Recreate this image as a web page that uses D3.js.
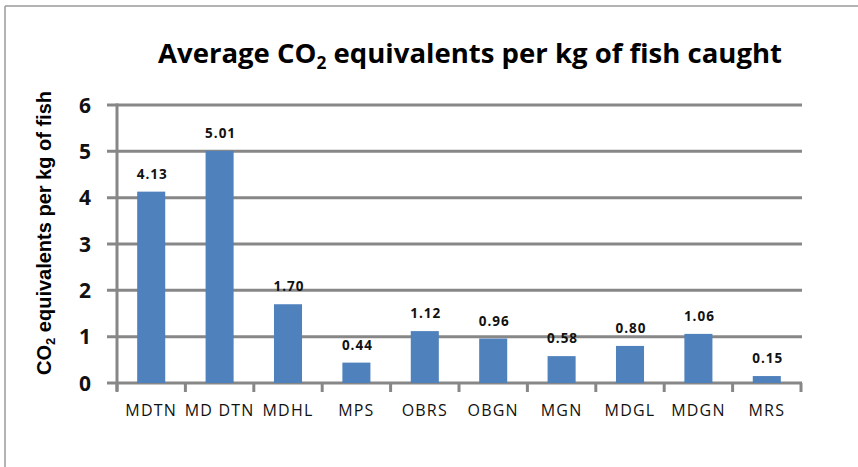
<!DOCTYPE html>
<html>
<head>
<meta charset="utf-8">
<script src="https://cdn.jsdelivr.net/npm/d3@7"></script>
<style>
  html, body { margin: 0; padding: 0; background: #fff; }
  svg { display: block; }
</style>
</head>
<body>
<svg id="chart" width="858" height="467"></svg>
<script>
const categories = ["MDTN", "MD DTN", "MDHL", "MPS", "OBRS", "OBGN", "MGN", "MDGL", "MDGN", "MRS"];
const values = [4.13, 5.01, 1.70, 0.44, 1.12, 0.96, 0.58, 0.80, 1.06, 0.15];
const valueLabels = ["4.13", "5.01", "1.70", "0.44", "1.12", "0.96", "0.58", "0.80", "1.06", "0.15"];
const yTicks = [0, 1, 2, 3, 4, 5, 6];

const svg = d3.select("#chart");
const W = 858, H = 467;

// outer frame (left and top edges visible)
svg.append("line").attr("x1", 5).attr("x2", 5).attr("y1", 6).attr("y2", H).attr("stroke", "#9a9a9a").attr("stroke-width", 1.5);
svg.append("line").attr("x1", 5).attr("x2", W).attr("y1", 6).attr("y2", 6).attr("stroke", "#9a9a9a").attr("stroke-width", 1.5);

const x0 = 117, x1 = 801, yBase = 383, yTop = 105;
const x = d3.scaleBand().domain(categories).range([x0, x1]).paddingInner(0.59).paddingOuter(0.295);
const xb = d3.scaleBand().domain(categories).range([x0, x1]);
const y = d3.scaleLinear().domain([0, 6]).range([yBase, yTop]);

const grid = "#878787";

// gridlines with outward ticks
svg.append("g").selectAll("line").data(yTicks).join("line")
  .attr("x1", x0 - 10).attr("x2", x1 + 1)
  .attr("y1", d => y(d)).attr("y2", d => y(d))
  .attr("stroke", grid).attr("stroke-width", 3);

// y axis line
svg.append("line").attr("x1", x0).attr("x2", x0).attr("y1", yTop - 1.5).attr("y2", yBase + 8)
  .attr("stroke", grid).attr("stroke-width", 3);

// x axis ticks (category boundaries)
const bounds = categories.map(c => xb(c)).concat([x1]);
svg.append("g").selectAll("line").data(bounds).join("line")
  .attr("x1", d => d).attr("x2", d => d)
  .attr("y1", yBase).attr("y2", yBase + 9)
  .attr("stroke", grid).attr("stroke-width", 3);

// y tick labels
svg.append("g").selectAll("text").data(yTicks).join("text")
  .attr("x", 91).attr("y", d => y(d) + 7.5)
  .attr("text-anchor", "end")
  .attr("font-family", "'Open Sans', sans-serif")
  .attr("font-weight", "bold").attr("font-size", 21)
  .attr("fill", "#111")
  .text(d => d);

// bars
svg.append("g").selectAll("rect").data(values).join("rect")
  .attr("x", (d, i) => x(categories[i]))
  .attr("width", x.bandwidth())
  .attr("y", d => y(d))
  .attr("height", d => yBase - y(d))
  .attr("fill", "#4f81bd");

// bar value labels
svg.append("g").selectAll("text").data(values).join("text")
  .attr("x", (d, i) => x(categories[i]) + x.bandwidth() / 2 + 1)
  .attr("y", d => y(d) - 13)
  .attr("text-anchor", "middle")
  .attr("font-family", "'Open Sans', sans-serif")
  .attr("font-weight", "bold").attr("font-size", 13.5)
  .attr("letter-spacing", "1px")
  .attr("fill", "#111")
  .text((d, i) => valueLabels[i]);

// category labels
svg.append("g").selectAll("text").data(categories).join("text")
  .attr("x", d => xb(d) + xb.bandwidth() / 2)
  .attr("y", 416)
  .attr("text-anchor", "middle")
  .attr("font-family", "'Open Sans', sans-serif")
  .attr("font-size", 16)
  .attr("letter-spacing", "1.2px")
  .attr("fill", "#111")
  .text(d => d);

// title
const title = svg.append("text")
  .attr("x", 158).attr("y", 63)
  .attr("font-family", "'Open Sans', sans-serif")
  .attr("font-weight", "bold").attr("font-size", 27)
  .attr("fill", "#000")
  .attr("textLength", 624).attr("lengthAdjust", "spacingAndGlyphs");
title.append("tspan").text("Average CO");
title.append("tspan").attr("font-size", 17).attr("dy", 6).text("2");
title.append("tspan").attr("dy", -6).text(" equivalents per kg of fish caught");

// y axis title
const yt = svg.append("text")
  .attr("transform", "translate(51,233) rotate(-90)")
  .attr("text-anchor", "middle")
  .attr("font-family", "'Liberation Sans', Arial, sans-serif")
  .attr("font-weight", "bold").attr("font-size", 20)
  .attr("fill", "#000");
yt.append("tspan").text("CO");
yt.append("tspan").attr("font-size", 13).attr("dy", 4).text("2");
yt.append("tspan").attr("dy", -4).text(" equivalents per kg of fish");
</script>
</body>
</html>
